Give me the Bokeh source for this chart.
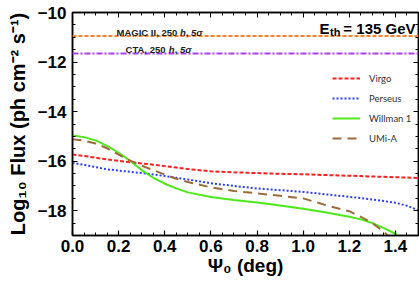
from bokeh.plotting import figure
from bokeh.models import (Range1d, LinearAxis, Label, Legend, LegendItem, Span,
                          SingleIntervalTicker, CustomJSTickFormatter)
from bokeh.embed import file_html
from bokeh.resources import INLINE

# ---------------- data ----------------
psi0 = [0.0, 0.05, 0.1, 0.15, 0.2, 0.25, 0.3, 0.35, 0.4, 0.45, 0.5, 0.6, 0.7,
        0.8, 0.9, 1.0, 1.1, 1.2, 1.25, 1.3, 1.35, 1.4, 1.45, 1.5]
virgo = [-15.73, -15.79, -15.86, -15.93, -15.99, -16.04, -16.09, -16.14, -16.20,
         -16.26, -16.32, -16.41, -16.45, -16.48, -16.51, -16.53, -16.56, -16.59,
         -16.60, -16.62, -16.63, -16.65, -16.66, -16.68]
perseus = [-16.07, -16.15, -16.24, -16.33, -16.38, -16.43, -16.48, -16.54, -16.60,
           -16.67, -16.74, -16.89, -17.00, -17.10, -17.17, -17.24, -17.34, -17.44,
           -17.49, -17.55, -17.61, -17.68, -17.80, -17.98]
willman1 = [-14.96, -15.03, -15.16, -15.38, -15.66, -15.99, -16.36, -16.67, -16.91,
            -17.10, -17.26, -17.45, -17.57, -17.67, -17.79, -17.92, -18.07, -18.24,
            -18.35, -18.50, -18.70, -18.93, -19.4, -19.9]
umi_a = [-15.12, -15.17, -15.29, -15.48, -15.74, -15.98, -16.18, -16.36, -16.54,
         -16.71, -16.84, -17.06, -17.20, -17.30, -17.40, -17.50, -17.78, -18.02,
         -18.25, -18.50, -18.85, -19.30, -19.8, -20.3]
series_names = ["Virgo", "Perseus", "Willman 1", "UMi-A"]
magic_sens = -10.95
cta_sens = -11.65
x_ticks_step = 0.2
y_ticks_step = 2

FONT = "Liberation Sans"

p = figure(width=419, height=286, output_backend="svg", toolbar_location=None,
           x_range=Range1d(0, 1.5), y_range=Range1d(-19, -10),
           min_border_left=72, min_border_right=1, min_border_top=12,
           min_border_bottom=51)
p.xgrid.visible = False
p.ygrid.visible = False
p.outline_line_color = "black"
p.outline_line_width = 1.5
p.background_fill_color = "white"
p.border_fill_color = "white"

xa = p.xaxis[0]
ya = p.yaxis[0]
xa.ticker = SingleIntervalTicker(interval=x_ticks_step, num_minor_ticks=4)
ya.ticker = SingleIntervalTicker(interval=y_ticks_step, num_minor_ticks=4)
for ax in (xa, ya):
    ax.major_tick_in = 5
    ax.major_tick_out = 0
    ax.minor_tick_in = 3
    ax.minor_tick_out = 0
    ax.axis_line_color = "black"
    ax.axis_line_width = 1.5
    ax.major_tick_line_width = 1.2
    ax.major_label_text_font = FONT
    ax.major_label_text_font_style = "bold"
    ax.major_label_text_font_size = "17px"
    ax.major_label_text_color = "black"
    ax.axis_label_text_font = FONT
    ax.axis_label_text_font_style = "bold"
    ax.axis_label_text_color = "black"
xa.formatter = CustomJSTickFormatter(code="return tick.toFixed(1);")
xa.major_label_standoff = 4
xa.axis_label = "Ψ₀ (deg)"
xa.axis_label_text_font_size = "19px"
xa.axis_label_standoff = 0
ya.major_label_standoff = 6
ya.axis_label = "Log₁₀ Flux (ph cm⁻² s⁻¹)"
ya.axis_label_text_font_size = "20px"
ya.axis_label_standoff = 6

# mirror axes: ticks only, labels not drawn
for loc, step in (("right", y_ticks_step), ("above", x_ticks_step)):
    ax = LinearAxis(ticker=SingleIntervalTicker(interval=step, num_minor_ticks=4))
    ax.major_tick_in = 5
    ax.major_tick_out = 0
    ax.minor_tick_in = 3
    ax.minor_tick_out = 0
    ax.major_label_text_font_size = "1px"
    ax.major_label_text_color = None
    ax.major_label_standoff = 0
    ax.axis_line_color = "black"
    ax.axis_line_width = 1.5
    p.add_layout(ax, loc)

# sensitivity lines
p.add_layout(Span(location=magic_sens, dimension="width", line_color="#ff7f2a",
                  line_width=2, line_dash="4 2"))
p.add_layout(Span(location=cta_sens, dimension="width", line_color="#a640ff",
                  line_width=2, line_dash="6 2 2 2"))

r_virgo = p.line(psi0, virgo, line_color="#ff2020", line_width=2, line_dash="4 2")
r_pers = p.line(psi0, perseus, line_color="#2a40ff", line_width=2, line_dash="2 2")
r_will = p.line(psi0, willman1, line_color="#4ee81a", line_width=2)
r_umi = p.line(psi0, umi_a, line_color="#9c6b3b", line_width=2, line_dash="9 6")

legend = Legend(items=[LegendItem(label=n, renderers=[r]) for n, r in
                       zip(series_names, [r_virgo, r_pers, r_will, r_umi])],
                location=(260, 87), border_line_color=None,
                background_fill_alpha=0, padding=0, margin=0, spacing=0,
                label_height=20, glyph_height=20, glyph_width=28,
                label_standoff=9, label_text_font="Lato",
                label_text_font_size="9.5px", label_text_color="#333333")
p.add_layout(legend, "center")

# sensitivity annotations
def add_pieces(x, y, pieces, size):
    off = 0.0
    for txt, italic, w in pieces:
        p.add_layout(Label(x=x, y=y, x_offset=off, text=txt, text_font=FONT,
                           text_font_style="bold italic" if italic else "bold",
                           text_font_size=f"{size}px", text_color="#222222",
                           text_baseline="alphabetic", text_align="left"))
        off += w * size

add_pieces(0.191, -10.807, [("MAGIC II, 250 ", False, 6.669), ("h", True, 0.611),
                             (", ", False, 0.556), ("5σ", True, 1.1)], 9.5)
add_pieces(0.230, -11.505, [("CTA, 250 ", False, 4.557), ("h", True, 0.611),
                             (", ", False, 0.556), ("5σ", True, 1.1)], 9.5)

# E_th label
p.add_layout(Label(x=1.5, y=-10.658, x_offset=-3, text="= 135 GeV", text_font=FONT,
                   text_font_style="bold", text_font_size="15px", text_color="black",
                   text_align="right", text_baseline="alphabetic"))
p.add_layout(Label(x=1.5, y=-10.658, y_offset=-3, x_offset=-78, text="th", text_font=FONT,
                   text_font_style="bold", text_font_size="11px", text_color="black",
                   text_align="right", text_baseline="alphabetic"))
p.add_layout(Label(x=1.5, y=-10.658, x_offset=-89, text="E", text_font=FONT,
                   text_font_style="bold", text_font_size="15px", text_color="black",
                   text_align="right", text_baseline="alphabetic"))

open("out.html", "w").write(file_html(p, INLINE))
